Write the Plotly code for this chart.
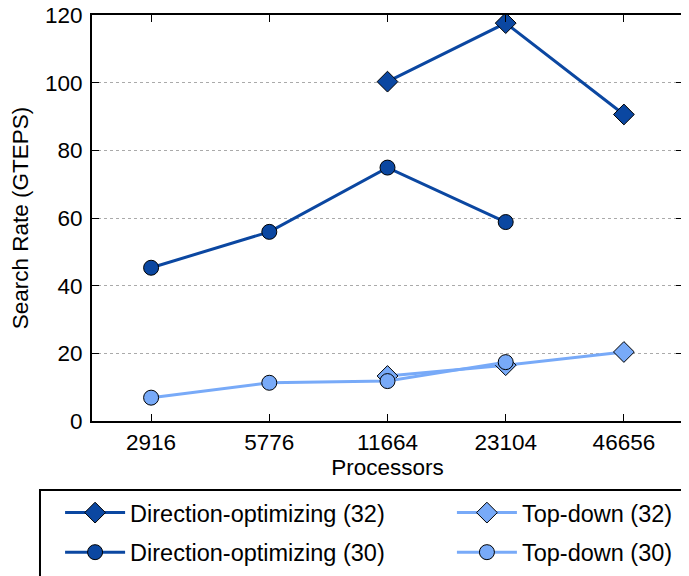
"""Search rate vs processor count: direction-optimizing vs top-down BFS."""

import plotly.graph_objects as go

PROCS = ["2916", "5776", "11664", "23104", "46656"]

DO_32_X = ["11664", "23104", "46656"]
DO_32 = [100.3, 117.6, 90.6]
DO_30_X = ["2916", "5776", "11664", "23104"]
DO_30 = [45.3, 55.9, 74.9, 58.8]
TD_32_X = ["11664", "23104", "46656"]
TD_32 = [13.3, 16.5, 20.4]
TD_30_X = ["2916", "5776", "11664", "23104"]
TD_30 = [6.9, 11.3, 11.8, 17.4]

DARK = "#0b47a1"
LIGHT = "#78aaf8"
FONT = "Liberation Sans, Arial, sans-serif"


def _trace(name, x, y, color, symbol, size, legend):
    return go.Scatter(
        name=name, x=x, y=y, mode="lines+markers", legend=legend, legendgroup=name,
        line=dict(color=color, width=3),
        marker=dict(symbol=symbol, size=size, color=color,
                    line=dict(color="black", width=1)),
    )


fig = go.Figure()
fig.add_trace(_trace("Direction-optimizing (32)", DO_32_X, DO_32, DARK, "diamond", 16, "legend"))
fig.add_trace(_trace("Top-down (32)", TD_32_X, TD_32, LIGHT, "diamond", 16, "legend2"))
fig.add_trace(_trace("Direction-optimizing (30)", DO_30_X, DO_30, DARK, "circle", 15, "legend"))
fig.add_trace(_trace("Top-down (30)", TD_30_X, TD_30, LIGHT, "circle", 15, "legend2"))

axis = dict(showline=True, linecolor="black", linewidth=2, mirror="ticks",
            ticks="inside", ticklen=7, tickcolor="black", tickwidth=1,
            tickfont=dict(size=22.5, color="black"), zeroline=False,
            ticklabeloverflow="allow")

# two one-column legends side by side, framed by a single box
leg = dict(orientation="v", yanchor="top", y=-0.172, xanchor="left",
           bgcolor="rgba(0,0,0,0)", borderwidth=0, font=dict(size=23.5),
           itemwidth=60, tracegroupgap=6, traceorder="grouped")

fig.update_layout(
    width=689, height=576,
    margin=dict(l=84, r=14, t=7, b=163, autoexpand=False),
    paper_bgcolor="white", plot_bgcolor="white",
    font=dict(family=FONT, color="black"),
    showlegend=True,
    xaxis=dict(axis, type="category", categoryorder="array", categoryarray=PROCS,
               range=[-0.5, 4.5], showgrid=False,
               title=dict(text="Processors", font=dict(size=22.5), standoff=4)),
    yaxis=dict(axis, range=[0, 120], dtick=20, showgrid=True, ticklabelstandoff=3,
               gridcolor="#aaaaaa", griddash="dot", gridwidth=1,
               title=dict(text="Search Rate (GTEPS)", font=dict(size=22.5), standoff=10)),
    legend=dict(leg, x=-0.054),
    legend2=dict(leg, x=0.609),
    shapes=[dict(type="rect", xref="paper", yref="paper",
                 x0=-0.088, x1=1.0, y0=-0.17, y1=-0.45,
                 line=dict(color="black", width=2), fillcolor="rgba(0,0,0,0)")],
)

fig.write_html("out.html")
